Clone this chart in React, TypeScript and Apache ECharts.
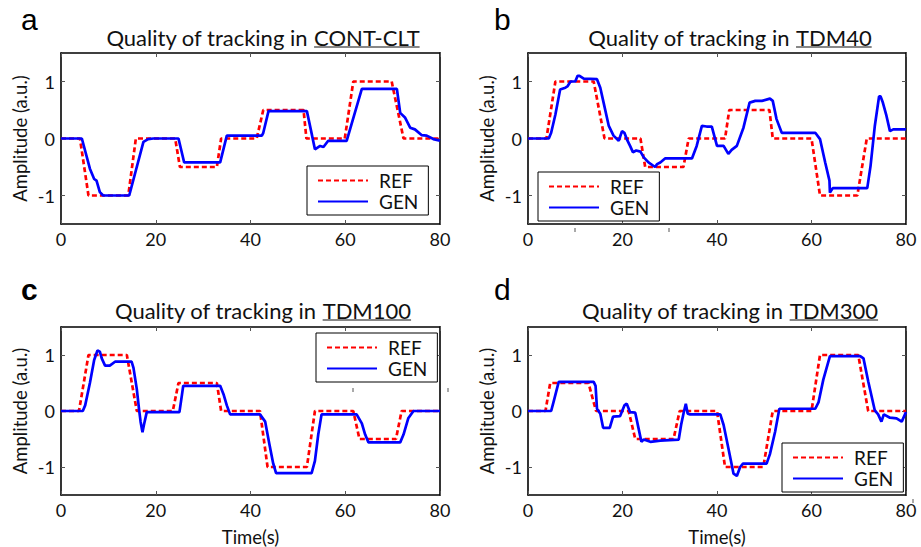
import React, { useEffect, useRef } from 'react';
import * as echarts from 'echarts';

// ---------- data ----------
const panelLetters = ['a', 'b', 'c', 'd'];
const panelTitles = ['CONT-CLT', 'TDM40', 'TDM100', 'TDM300'];
const titlePrefix = 'Quality of tracking in ';
const seriesNames = ['REF', 'GEN'];
const timeTicks = [0, 20, 40, 60, 80];
const ampTicks = [-1, 0, 1];
const xAxisName = 'Time(s)';
const yAxisName = 'Amplitude (a.u.)';

const refA = [[0, 0], [4.0, 0], [5.8, -1], [14.2, -1], [15.8, 0], [24.1, 0], [25.1, -0.5], [32.9, -0.5], [33.8, 0], [41.3, 0], [42.7, 0.5], [51.2, 0.5], [51.8, 0], [59.9, 0], [61.7, 1], [69.8, 1], [72.3, 0], [80, 0]];
const genA = [[0, 0], [4.4, 0], [6.1, -0.53], [7.0, -0.71], [7.5, -0.74], [8.2, -0.94], [8.9, -1], [14.4, -1], [17.4, -0.06], [18.4, -0.01], [19.5, 0], [24.8, 0], [26.0, -0.42], [33.6, -0.42], [35.0, 0.05], [42.4, 0.05], [42.7, 0.1], [43.8, 0.48], [51.9, 0.48], [53.0, 0.05], [53.6, -0.19], [54.7, -0.13], [55.4, -0.15], [56.4, -0.04], [60.3, -0.04], [63.5, 0.87], [70.9, 0.87], [71.6, 0.45], [72.6, 0.37], [73.7, 0.19], [74.7, 0.16], [76.1, 0.06], [77.2, 0.05], [78.6, -0.01], [80, -0.04]];

const refB = [[0, 0], [3.9, 0], [5.8, 1], [13.9, 1], [16.2, 0], [23.8, 0], [24.8, -0.5], [32.9, -0.5], [34.0, 0], [41.7, 0], [42.6, 0.5], [51.1, 0.5], [51.8, 0], [60.0, 0], [61.8, -1], [69.7, -1], [71.7, 0], [80, 0]];
const genB = [[0, 0], [4.4, 0], [4.9, 0.1], [5.8, 0.42], [6.8, 0.86], [7.9, 0.89], [8.4, 0.92], [9.0, 1.0], [10.0, 1.0], [10.5, 1.1], [10.9, 1.1], [11.8, 1.05], [14.6, 1.04], [15.3, 0.89], [16.0, 0.63], [17.1, 0.22], [18.1, 0.05], [19.2, -0.04], [19.9, 0.13], [20.4, 0.1], [20.9, -0.01], [21.6, -0.13], [22.2, -0.24], [22.9, -0.21], [23.8, -0.23], [24.5, -0.33], [25.5, -0.42], [26.9, -0.5], [27.3, -0.45], [28.0, -0.42], [29.0, -0.35], [34.7, -0.35], [35.7, -0.13], [36.8, 0.22], [37.8, 0.21], [38.9, 0.21], [40.0, -0.13], [41.4, -0.13], [42.4, -0.27], [43.1, -0.2], [44.2, -0.13], [45.6, 0.19], [46.9, 0.63], [48.1, 0.66], [49.5, 0.66], [51.2, 0.7], [51.8, 0.66], [52.6, 0.34], [53.7, 0.1], [60.8, 0.1], [61.8, -0.01], [62.9, -0.42], [63.8, -0.74], [63.9, -0.95], [64.5, -0.87], [71.8, -0.87], [72.5, -0.48], [73.4, 0.22], [74.3, 0.74], [74.6, 0.74], [75.1, 0.63], [75.8, 0.42], [76.6, 0.13], [77.3, 0.16], [80, 0.16]];

const refC = [[0, 0], [3.8, 0], [5.8, 1], [13.9, 1], [16.0, 0], [23.6, 0], [24.8, 0.5], [32.9, 0.5], [33.8, 0], [42.0, 0], [43.6, -1], [51.9, -1], [53.6, 0], [61.7, 0], [63.0, -0.5], [70.7, -0.5], [71.9, 0], [80, 0]];
const genC = [[0, 0], [4.6, 0], [5.1, 0.1], [6.1, 0.5], [7.0, 0.91], [7.7, 1.08], [8.2, 1.06], [8.6, 0.94], [9.3, 0.81], [10.3, 0.81], [11.4, 0.88], [14.9, 0.88], [15.3, 0.77], [16.0, 0.39], [16.5, 0.01], [16.8, -0.19], [17.2, -0.38], [17.5, -0.25], [18.1, -0.02], [25.0, -0.02], [25.5, 0.27], [25.8, 0.45], [33.6, 0.45], [34.3, 0.3], [35.0, 0.1], [35.7, -0.06], [42.0, -0.06], [43.1, -0.19], [44.0, -0.6], [44.8, -0.94], [45.4, -1.11], [52.9, -1.11], [53.6, -0.89], [54.3, -0.42], [55.0, -0.06], [62.4, -0.06], [63.5, -0.22], [64.2, -0.42], [64.9, -0.56], [71.6, -0.56], [72.3, -0.42], [73.3, -0.13], [74.4, 0], [80, 0]];

const refD = [[0, 0], [3.7, 0], [4.7, 0.5], [12.8, 0.5], [14.4, 0], [21.3, 0], [22.7, -0.5], [30.8, -0.5], [32.1, 0], [40.0, 0], [41.7, -1], [49.8, -1], [51.8, 0], [60.0, 0], [61.8, 1], [69.9, 1], [72.0, 0], [80, 0]];
const genD = [[0, 0], [4.9, 0], [5.4, 0.16], [6.5, 0.52], [13.9, 0.52], [14.3, 0.45], [14.6, 0.04], [15.3, -0.05], [15.9, -0.3], [17.3, -0.3], [18.0, -0.1], [19.5, -0.09], [20.4, 0.1], [20.9, 0.13], [21.6, -0.02], [22.7, -0.03], [23.4, -0.31], [24.0, -0.55], [24.5, -0.51], [25.9, -0.55], [28.0, -0.53], [31.9, -0.51], [32.4, -0.25], [32.9, -0.05], [33.4, 0.13], [33.8, -0.05], [34.3, -0.06], [40.7, -0.06], [41.4, -0.25], [42.4, -0.66], [43.5, -1.12], [44.2, -1.16], [44.9, -1.0], [45.5, -0.94], [50.5, -0.94], [51.2, -0.77], [52.3, -0.37], [53.2, 0.04], [60.8, 0.04], [61.5, 0.16], [62.5, 0.56], [63.9, 0.98], [70.3, 0.98], [71.0, 0.94], [72.0, 0.53], [73.4, 0.01], [74.1, -0.06], [74.8, -0.19], [75.3, -0.06], [76.6, -0.12], [78.0, -0.13], [79.1, -0.19], [80, -0.02]];

const refSeries = [refA, refB, refC, refD];
const genSeries = [genA, genB, genC, genD];

// ---------- layout ----------
const FONT = 'Lato';
const grids = [
  { left: 61, top: 53, width: 379, height: 171 },
  { left: 528, top: 53, width: 378, height: 171 },
  { left: 61, top: 327, width: 379, height: 171 },
  { left: 528, top: 327, width: 378, height: 171 },
];
const legendPos = [
  { left: 307, top: 166 },
  { left: 538, top: 172 },
  { left: 316, top: 333 },
  { left: 782, top: 443 },
];
const titleCenters = [
  { cx: 263, cy: 37, uy: 47 },
  { cx: 730, cy: 37, uy: 47 },
  { cx: 263, cy: 310, uy: 320 },
  { cx: 730, cy: 310, uy: 320 },
];
const letterPos = [
  { x: 21, y: 34, bold: false },
  { x: 494, y: 34, bold: false },
  { x: 21, y: 304, bold: true },
  { x: 494, y: 304, bold: false },
];
const TITLE_SIZE = 22;
const TICK_SIZE = 18;
const NAME_SIZE = 18.5;
const LEGEND_SIZE = 19;

function measure(text: string, font: string): number {
  const c = document.createElement('canvas');
  const ctx = c.getContext('2d');
  if (!ctx) return text.length * 9;
  ctx.font = font;
  return ctx.measureText(text).width;
}

export default function App() {
  const ref = useRef<HTMLDivElement>(null);
  useEffect(() => {
    if (!ref.current) return;
    const chart = echarts.init(ref.current, null, { renderer: 'svg' });

    const axisLineStyle = { color: '#000', width: 1.6 };
    const tickStyle = { color: '#555', width: 1 };
    const xAxes: any[] = [];
    const yAxes: any[] = [];
    const series: any[] = [];
    const legends: any[] = [];
    const graphics: any[] = [];

    grids.forEach((g, i) => {
      xAxes.push({
        gridIndex: i, type: 'value', position: 'bottom',
        min: timeTicks[0], max: timeTicks[timeTicks.length - 1], interval: timeTicks[1] - timeTicks[0],
        axisLine: { show: true, onZero: false, lineStyle: axisLineStyle },
        axisTick: { show: true, inside: true, length: 4, lineStyle: tickStyle },
        axisLabel: { show: true, margin: 6, fontSize: TICK_SIZE, fontFamily: FONT, color: '#111' },
        splitLine: { show: false },
        name: i >= 2 ? xAxisName : '', nameLocation: 'middle', nameGap: 32,
        nameTextStyle: { fontSize: NAME_SIZE, fontFamily: FONT, color: '#111' },
      });
      xAxes.push({
        gridIndex: i, type: 'value', position: 'top',
        min: timeTicks[0], max: timeTicks[timeTicks.length - 1], interval: timeTicks[1] - timeTicks[0],
        axisLine: { show: true, onZero: false, lineStyle: axisLineStyle },
        axisTick: { show: true, inside: true, length: 4, lineStyle: tickStyle },
        axisLabel: { show: false },
        splitLine: { show: false },
      });
      yAxes.push({
        gridIndex: i, type: 'value', position: 'left', min: -1.5, max: 1.5,
        axisLine: { show: true, onZero: false, lineStyle: axisLineStyle },
        axisTick: { show: true, inside: true, length: 4, lineStyle: tickStyle, customValues: ampTicks },
        axisLabel: { show: true, margin: 6, fontSize: TICK_SIZE, fontFamily: FONT, color: '#111', customValues: ampTicks },
        splitLine: { show: false },
        name: yAxisName, nameLocation: 'middle', nameGap: 32,
        nameTextStyle: { fontSize: NAME_SIZE, fontFamily: FONT, color: '#111' },
      });
      yAxes.push({
        gridIndex: i, type: 'value', position: 'right', min: -1.5, max: 1.5,
        axisLine: { show: true, onZero: false, lineStyle: axisLineStyle },
        axisTick: { show: true, inside: true, length: 4, lineStyle: tickStyle, customValues: ampTicks },
        axisLabel: { show: false },
        splitLine: { show: false },
      });
      series.push({
        name: seriesNames[0], type: 'line', xAxisIndex: i * 2, yAxisIndex: i * 2,
        data: refSeries[i], symbol: 'none', showSymbol: false,
        lineStyle: { color: '#ff0000', width: 2.7, type: [5, 3] }, itemStyle: { color: '#ff0000' },
      });
      series.push({
        name: seriesNames[1], type: 'line', xAxisIndex: i * 2, yAxisIndex: i * 2,
        data: genSeries[i], symbol: 'none', showSymbol: false,
        lineStyle: { color: '#0000ff', width: 2.7 }, itemStyle: { color: '#0000ff' },
      });
      legends.push({
        left: legendPos[i].left, top: legendPos[i].top, orient: 'vertical',
        data: seriesNames, selectedMode: false,
        itemWidth: 50, itemHeight: 16, itemGap: 2,
        padding: [5, 10, 4, 10], borderColor: '#000', borderWidth: 1,
        backgroundColor: '#fff',
        itemStyle: { opacity: 0 },
        textStyle: { fontSize: LEGEND_SIZE, fontFamily: FONT, color: '#111', lineHeight: 16, padding: [0, 0, 0, 6] },
      });

      // title with underlined condition name
      const font = `${TITLE_SIZE}px ${FONT}`;
      const wPre = measure(titlePrefix, font);
      const wName = measure(panelTitles[i], font);
      const x0 = titleCenters[i].cx - (wPre + wName) / 2;
      graphics.push({
        type: 'text', x: x0, y: titleCenters[i].cy,
        style: { text: titlePrefix, fontSize: TITLE_SIZE, fontFamily: FONT, fill: '#111', align: 'left', verticalAlign: 'middle' },
      });
      graphics.push({
        type: 'text', x: x0 + wPre, y: titleCenters[i].cy,
        style: { text: panelTitles[i], fontSize: TITLE_SIZE, fontFamily: FONT, fill: '#111', align: 'left', verticalAlign: 'middle' },
      });
      graphics.push({
        type: 'line',
        shape: { x1: x0 + wPre, y1: titleCenters[i].uy, x2: x0 + wPre + wName, y2: titleCenters[i].uy },
        style: { stroke: '#111', lineWidth: 1.2 },
      });
      graphics.push({
        type: 'text', x: letterPos[i].x, y: letterPos[i].y,
        style: {
          text: panelLetters[i], fontSize: 30, fontFamily: 'Liberation Sans',
          fontWeight: letterPos[i].bold ? 'bold' : 'normal', fill: '#000', align: 'left', verticalAlign: 'bottom',
        },
      });
    });

    // small stray tick marks present in the original figure
    const strays = [
      [575, 228], [669, 228], [353, 388], [448, 388], [913, 499],
    ];
    strays.forEach(([x, y]) => {
      graphics.push({ type: 'line', shape: { x1: x, y1: y, x2: x, y2: y + 4 }, style: { stroke: '#555', lineWidth: 1 } });
    });

    chart.setOption({
      animation: false,
      backgroundColor: '#fff',
      grid: grids.map((g) => ({ ...g, containLabel: false })),
      xAxis: xAxes,
      yAxis: yAxes,
      legend: legends,
      series,
      graphic: graphics,
    });
    return () => chart.dispose();
  }, []);
  return <div ref={ref} style={{ position: 'absolute', left: 0, top: 0, width: 921, height: 547 }} />;
}
